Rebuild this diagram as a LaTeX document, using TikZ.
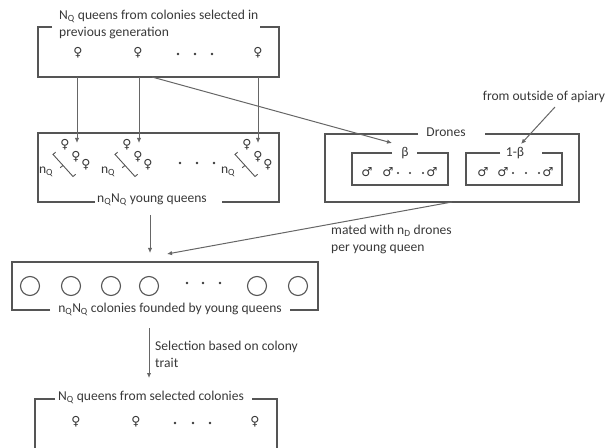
\documentclass[tikz,border=0pt]{standalone}
\usepackage{fontspec}
\setmainfont{Carlito}
\newfontfamily\symfont{DejaVu Sans}
\usetikzlibrary{arrows.meta}
\definecolor{txtgray}{HTML}{383838}
\definecolor{framegray}{HTML}{555555}
\definecolor{arrowgray}{HTML}{666666}

\begin{document}
\begin{tikzpicture}[x=1bp,y=-1bp,
  frame/.style={draw=framegray, line width=1.4bp},
  flow/.style={draw=arrowgray, line width=1bp, -{Latex[length=5bp,width=4.5bp]}},
  lbl/.style={text=txtgray, font=\fontsize{13.6}{17.5}\selectfont, inner sep=0pt},
  queen/.style={text=txtgray, font=\symfont\fontsize{12.5}{12.5}\selectfont, inner sep=0pt},
  drone/.style={text=txtgray, font=\symfont\fontsize{12.5}{12.5}\selectfont, inner sep=0pt},
  dot/.style={fill=txtgray, draw=none},
  colony/.style={draw=framegray, line width=1.1bp, circle, minimum size=19bp, inner sep=0pt}]
\useasboundingbox (0,0) rectangle (613,448);

% ---- queens selected in the previous generation
\node[lbl, anchor=west, align=left] (toplbl) at (59,24.5)
  {N\textsubscript{Q} queens from colonies selected in\\previous generation};
\draw[frame] (52,27) -- (38,27) -- (38,77) -- (279,77) -- (279,27) -- (260,27);
\node[queen] (q1) at (78,53) {♀};
\node[queen] (q2) at (138,53) {♀};
\node[queen] (q3) at (258,53) {♀};
\foreach \x in {178,195,212} \fill[dot] (\x,54) circle (1.3);

% ---- young queens
\draw[frame] (95,202) -- (38,202) -- (38,133) -- (279,133) -- (279,202) -- (222,202);
\node[lbl] (younglbl) at (152,200) {n\textsubscript{Q}N\textsubscript{Q} young queens};
\foreach \m [count=\i] in {63,125,245} {
  \node[queen] (y\i a) at (\m+2,145) {♀};
  \node[queen] (y\i b) at (\m+13,157) {♀};
  \node[queen] (y\i c) at (\m+23,165) {♀};
  \node[lbl] (nq\i) at (\m-17,172) {n\textsubscript{Q}};
  \draw[framegray, line width=0.9bp]
    (\m-7.3,152.2) -- (\m-10,154.4) -- (\m+10,176.5) -- (\m+12.7,174.3);
  \draw[framegray, line width=0.9bp] (\m,165.5) -- (\m-2.8,167.7);
}
\foreach \x in {180,197,214} \fill[dot] (\x,163) circle (1.3);

\coordinate (s1) at (77,77);  \coordinate (e1) at (77,143);
\coordinate (s2) at (139,77); \coordinate (e2) at (139,143);
\coordinate (s3) at (258,77); \coordinate (e3) at (258,143);
\draw[flow] (s1) -- (e1);
\draw[flow] (s2) -- (e2);
\draw[flow] (s3) -- (e3);

% ---- drones
\draw[frame] (418,134) -- (325,134) -- (325,202) -- (579,202) -- (579,134) -- (485,134);
\node[lbl] (droneslbl) at (446,132) {Drones};
\draw[frame] (392,153) -- (352,153) -- (352,185) -- (448,185) -- (448,153) -- (417,153);
\node[lbl] (betalbl) at (405,153) {β};
\draw[frame] (500,153) -- (466,153) -- (466,185) -- (562,185) -- (562,153) -- (542,153);
\node[lbl] (obetalbl) at (515,153) {1-β};
\node[drone] (d1) at (367,172) {♂};
\node[drone] (d2) at (388,172) {♂};
\node[drone] (d3) at (432,172) {♂};
\foreach \x in {398,410,423} \fill[dot] (\x,173) circle (1.2);
\node[drone] (o1) at (483,172) {♂};
\node[drone] (o2) at (503,172) {♂};
\node[drone] (o3) at (548,172) {♂};
\foreach \x in {513,526,539} \fill[dot] (\x,173) circle (1.2);

\node[lbl] (outside) at (544,97) {from outside of apiary};
\coordinate (outs) at (555,107); \coordinate (oute) at (521,144);
\draw[flow] (outs) -- (oute);
\coordinate (qs) at (152,77); \coordinate (qe) at (392,143);
\draw[flow] (qs) -- (qe);

% ---- colonies
\draw[frame] (50,310) -- (12,310) -- (12,262) -- (318,262) -- (318,310) -- (290,310);
\node[lbl] (collbl) at (170,309) {n\textsubscript{Q}N\textsubscript{Q} colonies founded by young queens};
\foreach \x [count=\i] in {30,71,111,149,257,298} \node[colony] (c\i) at (\x,286) {};
\foreach \x in {187,203,220} \fill[dot] (\x,283) circle (1.3);

\coordinate (ys) at (150,215); \coordinate (ye) at (150,253);
\draw[flow] (ys) -- (ye);
\coordinate (ds) at (452,202); \coordinate (de) at (167,254);
\draw[flow] (ds) -- (de);
\node[lbl, anchor=west, align=left] (matedlbl) at (331,239.5)
  {mated with n\textsubscript{D} drones\\per young queen};

% ---- selection
\coordinate (ss) at (149,328); \coordinate (se) at (149,378);
\draw[flow] (ss) -- (se);
\node[lbl, anchor=west, align=left] (sellbl) at (155,354.5)
  {Selection based on colony\\trait};

% ---- queens from selected colonies
\draw[frame] (55,399) -- (35,399) -- (35,449);
\draw[frame] (252,399) -- (277,399) -- (277,449);
\node[lbl] (botlbl) at (151,397) {N\textsubscript{Q} queens from selected colonies};
\node[queen] (b1) at (76,422) {♀};
\node[queen] (b2) at (136,422) {♀};
\node[queen] (b3) at (255,422) {♀};
\foreach \x in {175,193,210} \fill[dot] (\x,423) circle (1.3);
\end{tikzpicture}
\end{document}
